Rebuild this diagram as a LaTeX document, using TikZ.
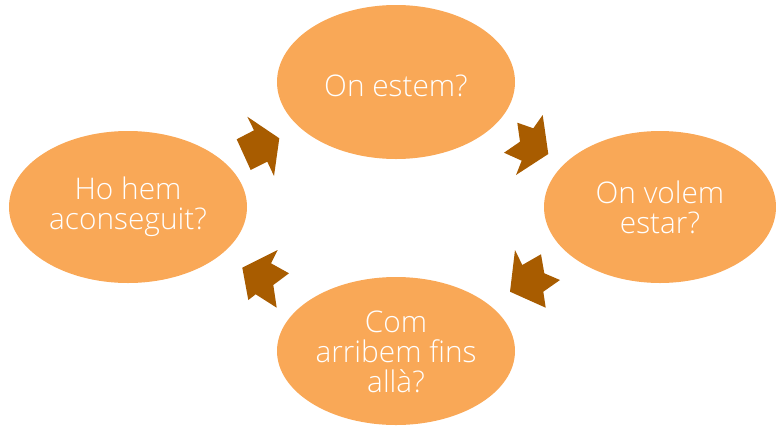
\documentclass[tikz,border=0pt]{standalone}
\usepackage{fontspec}
\setmainfont{Open Sans Light}
\definecolor{ellfill}{HTML}{F9A857}
\definecolor{arrfill}{HTML}{A85C00}
\begin{document}
\begin{tikzpicture}[x=1pt,y=-1pt,
  lbl/.style={text=white,align=center,font=\fontsize{29.8}{30}\selectfont,inner sep=0pt},
  chev/.style={fill=arrfill,draw=none}]
\useasboundingbox (0,0) rectangle (776,426);
\path[fill=ellfill] (396,82) ellipse [x radius=119,y radius=77];
\path[fill=ellfill] (660,207) ellipse [x radius=116,y radius=76];
\path[fill=ellfill] (396,351) ellipse [x radius=119,y radius=74];
\path[fill=ellfill] (128,207) ellipse [x radius=119,y radius=76];
\node[lbl] (top) at (396,86) {On estem?};
\node[lbl] (right) at (660,207) {On volem\\estar?};
\node[lbl] (bottom) at (396,352) {Com\\arribem fins\\allà?};
\node[lbl] (left) at (128,207) {Ho hem\\aconseguit?};
\fill[chev] (247.3,116.7) -- (279.3,138.3) -- (274,176) -- (267.3,161.7) -- (250.7,170) -- (236.7,139.3) -- (254,130.3) -- cycle;
\fill[chev] (517.3,122.7) -- (533.3,128.3) -- (542.7,115) -- (548.3,154) -- (516,175) -- (521.7,160.7) -- (504,152.7) -- (520,141.7) -- cycle;
\fill[chev] (515,250) -- (522.3,265) -- (541,254.3) -- (544.3,273.3) -- (560,280) -- (543.3,291.7) -- (545.7,307.7) -- (510,291.7) -- cycle;
\fill[chev] (277.7,250) -- (271,263.3) -- (289,273.3) -- (273.3,285) -- (276.7,307.7) -- (255.7,294.3) -- (248.3,300) -- (242.3,267.7) -- cycle;
\end{tikzpicture}
\end{document}
